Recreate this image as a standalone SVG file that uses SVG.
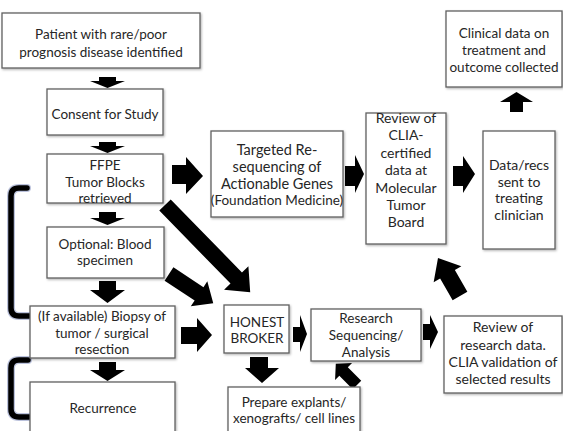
<svg xmlns="http://www.w3.org/2000/svg" width="563" height="431" viewBox="0 0 563 431">
<defs>
<style>
.box{fill:#fff;stroke:#606060;stroke-width:1.3;filter:url(#sh)}
.t{font-family:Lato,"Open Sans","Liberation Sans",sans-serif;font-size:13.5px;fill:#262626;text-anchor:middle}
.ar{fill:#000}
.br{fill:none;stroke:#000;stroke-width:5.5;stroke-linecap:round;stroke-linejoin:round}
.brh{fill:none;stroke:#3b4f9a;stroke-width:8;stroke-opacity:0.35;stroke-linecap:round;stroke-linejoin:round}
</style>
<filter id="sh" x="-10%" y="-10%" width="120%" height="120%">
<feDropShadow dx="1" dy="1.2" stdDeviation="0.8" flood-color="#000" flood-opacity="0.3"/>
</filter>
</defs>
<rect width="563" height="431" fill="#fff"/>

<g id="connectors">
<!-- left brackets -->
<path class="brh" d="M27,188 H19 Q11,188 11,196 V308 Q11,316 19,316 H29"/>
<path class="br" d="M27,188 H19 Q11,188 11,196 V308 Q11,316 19,316 H29"/>
<path class="brh" d="M28,360 H19 Q11,360 11,368 V409 Q11,417 19,417 H29"/>
<path class="br" d="M28,360 H19 Q11,360 11,368 V409 Q11,417 19,417 H29"/>
<!-- down arrows -->
<polygon class="ar" points="99,77 116,77 116,81 125,81 107.5,88 90,81 99,81"/>
<polygon class="ar" points="99,142 116,142 116,146 125,146 107.5,153 90,146 99,146"/>
<polygon class="ar" points="99,212 116,212 116,218 125,218 107.5,225 90,218 99,218"/>
<polygon class="ar" points="99,281 116,281 116,290 125,290 107.5,303 90,290 99,290"/>
<polygon class="ar" points="99,362 116,362 116,370 125,370 107.5,381 90,370 99,370"/>
<polygon class="ar" points="250,357 268,357 268,368 279,368 262,383 245,368 250,368"/>
<!-- up arrow -->
<polygon class="ar" points="510,112 523,112 523,102 533,102 516.5,92 500,102 510,102"/>
<!-- right arrows -->
<polygon class="ar" points="172,165 186,165 186,157 203,176 186,194 186,184 172,184"/>
<polygon class="ar" points="345,166 355,166 355,155 364,174 355,193 355,186 345,186"/>
<polygon class="ar" points="453,166 463,166 463,156 475,174 463,193 463,186 453,186"/>
<polygon class="ar" points="181,327 197,327 197,318 212,335 197,352 197,344 181,344"/>
<polygon class="ar" points="293,327 300,327 300,315 307,334 300,352 300,342 293,342"/>
<polygon class="ar" points="423,324 430,324 430,315 438,332 430,349 430,340 423,340"/>
<!-- diagonal arrows -->
<path class="ar" transform="translate(165,205) rotate(45.7)" d="M0,-8 H102 V-17 L122,0 L102,17 V8 H0 Z"/>
<path class="ar" transform="translate(169,274) rotate(33.4)" d="M0,-8 H36 V-15 L53,0 L36,15 V8 H0 Z"/>
<path class="ar" transform="translate(460,296) rotate(-120)" d="M0,-8.5 H25 V-16 L44,0 L25,16 V8.5 H0 Z"/>
<path class="ar" transform="translate(357,385) rotate(-135)" d="M0,-6 H19 V-12 L30,0 L19,12 V6 H0 Z"/>
</g>

<g id="n-patient"><rect class="box" x="2" y="13" width="198" height="55"/>
<text class="t" x="101" y="39">Patient with rare/poor</text>
<text class="t" x="101" y="57">prognosis disease identified</text></g>

<g id="n-consent"><rect class="box" x="47" y="89" width="116" height="46"/>
<text class="t" x="105" y="119">Consent for Study</text></g>

<g id="n-ffpe"><rect class="box" x="47" y="154" width="116" height="49"/>
<text class="t" x="105" y="170">FFPE</text>
<text class="t" x="105" y="187">Tumor Blocks</text>
<text class="t" x="105" y="203">retrieved</text></g>

<g id="n-blood"><rect class="box" x="47" y="227" width="117" height="51"/>
<text class="t" x="105" y="249">Optional: Blood</text>
<text class="t" x="105" y="265">specimen</text></g>

<g id="n-biopsy"><rect class="box" x="30" y="306" width="145" height="52"/>
<text class="t" x="102" y="321">(If available) Biopsy of</text>
<text class="t" x="102" y="338">tumor / surgical</text>
<text class="t" x="102" y="354">resection</text></g>

<g id="n-recurrence"><rect class="box" x="30" y="382" width="145" height="60"/>
<text class="t" x="103" y="413">Recurrence</text></g>

<g id="n-targeted"><rect class="box" x="211" y="131" width="132" height="86"/>
<text class="t" x="277" y="155" style="font-size:14.5px">Targeted Re-</text>
<text class="t" x="277" y="172" style="font-size:14.5px">sequencing of</text>
<text class="t" x="277" y="189" style="font-size:14.5px">Actionable Genes</text>
<text class="t" x="277" y="205">(Foundation Medicine)</text></g>

<g id="n-clia"><rect class="box" x="366" y="113" width="80" height="131"/>
<text class="t" x="406" y="123" style="font-size:14px">Review of</text>
<text class="t" x="406" y="140" style="font-size:14px">CLIA-</text>
<text class="t" x="406" y="158" style="font-size:14px">certified</text>
<text class="t" x="406" y="175" style="font-size:14px">data at</text>
<text class="t" x="406" y="193" style="font-size:14px">Molecular</text>
<text class="t" x="406" y="210" style="font-size:14px">Tumor</text>
<text class="t" x="406" y="227" style="font-size:14px">Board</text></g>

<g id="n-datarecs"><rect class="box" x="483" y="131" width="72" height="118"/>
<text class="t" x="519" y="170" style="font-size:14px">Data/recs</text>
<text class="t" x="519" y="187" style="font-size:14px">sent to</text>
<text class="t" x="519" y="203" style="font-size:14px">treating</text>
<text class="t" x="519" y="220" style="font-size:14px">clinician</text></g>

<g id="n-clinical"><rect class="box" x="446" y="11" width="116" height="76"/>
<text class="t" x="504" y="38">Clinical data on</text>
<text class="t" x="504" y="55">treatment and</text>
<text class="t" x="504" y="72">outcome collected</text></g>

<g id="n-honest"><rect class="box" x="224" y="305" width="65" height="48"/>
<text class="t" x="257" y="327">HONEST</text>
<text class="t" x="257" y="343">BROKER</text></g>

<g id="n-prepare"><rect class="box" x="228" y="387" width="132" height="55"/>
<text class="t" x="294" y="407">Prepare explants/</text>
<text class="t" x="294" y="423">xenografts/ cell lines</text></g>

<g id="n-research"><rect class="box" x="311" y="309" width="110" height="52"/>
<text class="t" x="366" y="323">Research</text>
<text class="t" x="366" y="340">Sequencing/</text>
<text class="t" x="366" y="357">Analysis</text></g>

<g id="n-reviewresearch"><rect class="box" x="444" y="316" width="118" height="77"/>
<text class="t" x="503" y="332" style="font-size:14px">Review of</text>
<text class="t" x="503" y="350" style="font-size:14px">research data.</text>
<text class="t" x="503" y="367" style="font-size:14px">CLIA validation of</text>
<text class="t" x="503" y="384" style="font-size:14px">selected results</text></g>
</svg>
